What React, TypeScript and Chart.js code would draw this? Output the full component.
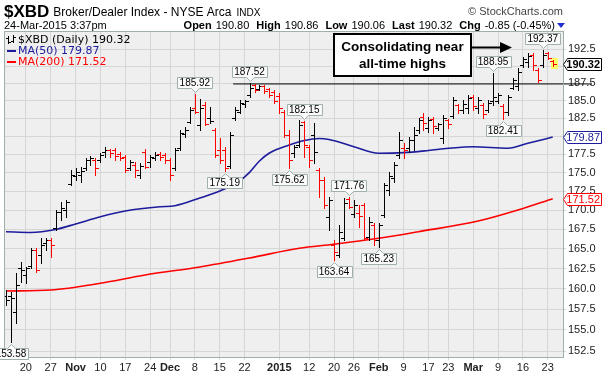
import React, { useEffect, useRef } from "react";
import { Chart, registerables } from "chart.js";

Chart.register(...registerables);

const SANS = '"Liberation Sans", Arial, sans-serif';
const VERD = '"DejaVu Sans", Verdana, sans-serif';

// Daily bars, 14-Oct-2014 (index 0) .. 24-Mar-2015 (index 110)
const opens = [
  159.12, 159.12, 157.16, 162.59, 161.72, 162.84, 164.86, 164.23, 165.76, 166.14,
  167.69, 169.77, 170.03, 173.48, 174.55, 174.69, 175.63, 176.72, 176.72, 176.72,
  177.81, 178.09, 178.09, 177.54, 177.13, 175.63, 176.04, 174.69, 177.81, 176.45,
  176.99, 177.54, 177.40, 176.72, 175.63, 178.36, 180.30, 181.98, 183.95, 181.56,
  184.38, 182.54, 180.86, 178.09, 178.09, 175.90, 182.54, 183.39, 184.52, 185.81,
  187.25, 186.67, 187.11, 186.67, 186.24, 185.67, 183.39, 180.16, 177.68, 178.78,
  181.98, 178.50, 180.16, 175.36, 174.01, 169.12, 165.50, 164.23, 166.40, 171.48,
  169.51, 169.64, 170.69, 166.53, 168.08, 166.14, 169.38, 172.68, 174.28, 177.40,
  178.36, 178.36, 179.47, 180.86, 182.68, 181.14, 182.40, 181.14, 179.74, 182.26,
  182.82, 184.38, 183.67, 183.95, 185.52, 183.95, 184.38, 183.67, 184.95, 184.95,
  184.24, 183.39, 186.81, 187.11, 190.15, 190.60, 191.63, 189.42, 190.15, 191.93,
  190.80,
];
const highs = [
  159.85, 159.61, 161.96, 163.35, 162.72, 165.11, 165.11, 166.40, 166.40, 166.40,
  170.03, 171.08, 171.35, 175.36, 175.63, 175.77, 176.99, 177.27, 176.99, 177.68,
  178.50, 178.22, 178.36, 177.81, 177.40, 176.72, 176.45, 176.31, 178.22, 177.40,
  177.81, 177.81, 177.68, 176.99, 178.36, 180.86, 181.28, 184.10, 185.92, 185.23,
  184.81, 184.10, 181.14, 179.74, 178.50, 180.58, 184.10, 185.09, 185.09, 187.52,
  187.32, 187.25, 187.25, 186.81, 186.52, 186.09, 183.67, 180.86, 178.78, 182.26,
  182.15, 178.78, 181.84, 175.63, 174.42, 171.75, 166.14, 168.08, 171.61, 171.76,
  171.35, 170.69, 170.95, 169.12, 168.33, 168.33, 173.61, 175.09, 176.45, 180.58,
  179.05, 179.88, 181.28, 182.54, 183.24, 182.68, 182.68, 181.84, 182.96, 182.40,
  185.52, 184.52, 185.09, 185.81, 185.81, 185.52, 184.66, 185.09, 188.95, 186.09,
  184.52, 185.81, 188.26, 189.72, 191.33, 191.93, 191.93, 189.72, 192.37, 192.07,
  190.86,
];
const lows = [
  158.02, 153.58, 155.84, 160.84, 160.72, 162.59, 162.09, 163.22, 164.86, 163.98,
  167.43, 168.72, 169.12, 173.34, 174.01, 173.75, 175.36, 176.04, 174.69, 176.45,
  177.13, 177.13, 176.72, 176.72, 175.09, 175.36, 174.42, 174.28, 175.63, 175.77,
  176.72, 176.72, 176.31, 174.01, 175.36, 178.09, 179.88, 181.84, 183.24, 180.86,
  181.56, 181.84, 177.13, 176.31, 175.19, 175.63, 182.26, 183.24, 184.10, 185.52,
  186.24, 186.52, 186.09, 185.52, 184.66, 183.24, 179.88, 175.62, 177.13, 178.50,
  177.13, 175.77, 176.31, 171.70, 170.29, 167.43, 163.64, 163.98, 166.14, 170.29,
  169.12, 167.82, 166.14, 166.14, 165.50, 165.23, 169.12, 172.01, 173.75, 176.99,
  176.99, 177.81, 178.09, 180.44, 180.86, 180.58, 180.44, 180.86, 179.05, 181.14,
  182.54, 183.24, 183.24, 183.24, 183.67, 183.24, 182.54, 183.39, 184.38, 184.66,
  182.41, 182.96, 186.67, 186.52, 189.86, 189.86, 189.42, 187.68, 189.86, 191.04,
  190.06,
];
const closes = [
  158.63, 158.87, 160.47, 162.34, 162.59, 164.86, 162.34, 165.50, 166.14, 165.50,
  169.77, 170.29, 171.08, 174.69, 175.09, 175.23, 176.72, 176.99, 175.63, 177.40,
  178.09, 177.68, 177.27, 176.99, 175.36, 176.45, 175.36, 175.90, 175.77, 177.13,
  177.40, 177.13, 176.72, 174.69, 178.09, 180.44, 180.86, 183.67, 183.39, 183.95,
  181.70, 182.12, 177.40, 176.72, 175.63, 180.16, 183.67, 184.66, 184.95, 186.81,
  186.52, 187.11, 186.38, 185.81, 184.95, 183.95, 180.16, 176.72, 178.50, 181.56,
  178.78, 176.72, 177.81, 174.01, 170.69, 171.35, 164.61, 167.17, 170.95, 170.42,
  170.69, 169.25, 166.40, 168.46, 166.14, 168.08, 173.34, 174.55, 176.04, 179.47,
  178.09, 179.47, 180.16, 182.26, 181.84, 182.26, 181.42, 181.70, 182.54, 181.70,
  185.09, 183.67, 184.52, 185.38, 184.24, 185.09, 183.10, 184.66, 185.52, 185.81,
  183.39, 185.52, 187.97, 189.13, 191.04, 191.48, 190.16, 187.97, 191.63, 191.17,
  190.32,
];

// Moving averages, read at sample bar positions
const ma50Idx = [0, 5, 10, 14, 19, 24, 31, 34, 39, 43, 47, 49, 51, 53, 57, 60, 63, 65, 70, 75, 80, 85, 89, 94, 101, 105, 110];
const ma50Val = [167.21, 167.11, 167.50, 168.20, 169.15, 169.90, 170.46, 170.59, 171.61, 172.54, 173.88, 175.03, 176.58, 177.68, 178.78, 179.40, 179.68, 179.54, 178.54, 177.64, 177.72, 178.02, 178.32, 178.54, 178.32, 179.01, 179.87];
const ma200Idx = [0, 9, 19, 28, 39, 49, 59, 66, 75, 83, 95, 103, 110];
const ma200Val = [159.73, 159.85, 160.68, 161.72, 162.72, 163.85, 165.08, 165.59, 166.36, 167.21, 168.59, 170.03, 171.52];

// Axis ticks
const xTickIdx = [4, 9, 14, 19, 24, 29, 33, 38, 43, 48, 55, 61, 66, 70, 75, 80, 85, 89, 94, 99, 104, 109];
const xTickLabels = ["20", "27", "Nov", "10", "17", "24", "Dec", "8", "15", "22", "2015", "12", "20", "26", "Feb", "9", "17", "23", "Mar", "9", "16", "23"];
const yTicks = [152.5, 155, 157.5, 160, 162.5, 165, 167.5, 170, 172.5, 175, 177.5, 180, 182.5, 185, 187.5, 190, 192.5];

// Labelled highs / lows
const markIdx = [1, 38, 44, 49, 57, 60, 66, 69, 75, 98, 100, 108];
const markSide = ["low", "high", "low", "high", "low", "high", "low", "high", "low", "high", "low", "high"];

// Resistance line
const resistanceLevel = 187.4;
const resistanceFrom = 45.7;
const resistanceTo = 117.9;

const quoteFields = [["Open", "190.80"], ["High", "190.86"], ["Low", "190.06"], ["Last", "190.32"], ["Chg", "-0.85 (-0.45%)"]];
const calloutLines = ["Consolidating near", "all-time highs"];

const BLUE = "#1c1c9c";
const RED = "#ff0000";
const GRID = "#d6d6d6";
const BORDER = "#9fb0a8";

function drawMark(ctx: CanvasRenderingContext2D, cx: number, py: number, text: string, above: boolean) {
  ctx.font = `10px ${SANS}`;
  const tw = ctx.measureText(text).width;
  const w = Math.round(tw + 4);
  const h = 11;
  const c = Math.round(cx) + 0.5;
  const left = Math.round(cx - w / 2) + 0.5;
  ctx.beginPath();
  let mid: number;
  if (above) {
    const bottom = Math.round(py - 6) + 0.5;
    const top = bottom - h;
    ctx.moveTo(left, top);
    ctx.lineTo(left + w, top);
    ctx.lineTo(left + w, bottom);
    ctx.lineTo(c + 4, bottom);
    ctx.lineTo(c, bottom + 4);
    ctx.lineTo(c - 4, bottom);
    ctx.lineTo(left, bottom);
    mid = (top + bottom) / 2;
  } else {
    const top = Math.round(py + 6) + 0.5;
    const bottom = top + h;
    ctx.moveTo(left, top);
    ctx.lineTo(c - 4, top);
    ctx.lineTo(c, top - 4);
    ctx.lineTo(c + 4, top);
    ctx.lineTo(left + w, top);
    ctx.lineTo(left + w, bottom);
    ctx.lineTo(left, bottom);
    mid = (top + bottom) / 2;
  }
  ctx.closePath();
  ctx.fillStyle = "#fbfbfb";
  ctx.fill();
  ctx.strokeStyle = BORDER;
  ctx.lineWidth = 1;
  ctx.stroke();
  ctx.fillStyle = "#000";
  ctx.textAlign = "center";
  ctx.textBaseline = "middle";
  ctx.fillText(text, cx, mid + 0.5);
}

function drawValueBox(ctx: CanvasRenderingContext2D, left: number, py: number, text: string, color: string, bold: boolean) {
  const y = Math.round(py) + 0.5;
  ctx.beginPath();
  ctx.moveTo(left + 0.5, y);
  ctx.lineTo(left + 4.5, y - 6);
  ctx.lineTo(601.5, y - 6);
  ctx.lineTo(601.5, y + 6);
  ctx.lineTo(left + 4.5, y + 6);
  ctx.closePath();
  ctx.fillStyle = "#fff";
  ctx.fill();
  ctx.strokeStyle = color;
  ctx.lineWidth = 1;
  ctx.stroke();
  ctx.fillStyle = bold ? "#000" : color;
  ctx.font = `${bold ? "bold " : ""}11px ${SANS}`;
  ctx.textAlign = "right";
  ctx.textBaseline = "middle";
  ctx.fillText(text, 600, y + 0.5);
}

const xbdPlugin = {
  id: "xbd",
  beforeDraw(chart: any) {
    const { ctx, chartArea: a } = chart;
    ctx.save();
    ctx.fillStyle = "#fff";
    ctx.fillRect(0, 0, chart.width, chart.height);
    ctx.fillStyle = "#efefef";
    ctx.fillRect(a.left, a.top, a.right - a.left, a.bottom - a.top);
    ctx.restore();
  },
  beforeDatasetsDraw(chart: any) {
    const { ctx, scales } = chart;
    const n = closes.length - 1;
    const px = Math.round(scales.x.getPixelForValue(n));
    const top = Math.round(scales.y.getPixelForValue(highs[n]));
    const bot = Math.round(scales.y.getPixelForValue(lows[n]));
    ctx.save();
    ctx.fillStyle = "#ffff66";
    ctx.fillRect(px - 2, top - 2, 7, bot - top + 5);
    ctx.restore();
  },
  afterDatasetsDraw(chart: any) {
    const { ctx, chartArea: a, scales } = chart;
    const xs = scales.x;
    const ys = scales.y;
    ctx.save();
    ctx.beginPath();
    ctx.rect(a.left, a.top, a.right - a.left, a.bottom - a.top);
    ctx.clip();
    ctx.lineWidth = 1;
    for (let i = 0; i < closes.length; i++) {
      const up = i === 0 ? true : closes[i] >= closes[i - 1];
      const col = Math.round(xs.getPixelForValue(i));
      const px = col + 0.5;
      const yh = Math.round(ys.getPixelForValue(highs[i]));
      const yl = Math.round(ys.getPixelForValue(lows[i]));
      const yo = Math.round(ys.getPixelForValue(opens[i])) + 0.5;
      const yc = Math.round(ys.getPixelForValue(closes[i])) + 0.5;
      ctx.strokeStyle = up ? "#000" : RED;
      ctx.beginPath();
      ctx.moveTo(px, yh);
      ctx.lineTo(px, yl + 1);
      ctx.moveTo(col - 3, yo);
      ctx.lineTo(col, yo);
      ctx.moveTo(col + 1, yc);
      ctx.lineTo(col + 4, yc);
      ctx.stroke();
    }
    ctx.restore();
  },
  afterDraw(chart: any) {
    const { ctx, chartArea: a, scales } = chart;
    const xs = scales.x;
    const ys = scales.y;
    const n = closes.length - 1;
    ctx.save();

    // plot border
    ctx.strokeStyle = BORDER;
    ctx.lineWidth = 1;
    ctx.strokeRect(a.left - 0.5, a.top - 0.5, a.right - a.left + 1, a.bottom - a.top + 1);

    // labelled highs and lows
    for (let k = 0; k < markIdx.length; k++) {
      const i = markIdx[k];
      const above = markSide[k] === "high";
      const v = above ? highs[i] : lows[i];
      drawMark(ctx, xs.getPixelForValue(i), ys.getPixelForValue(v), v.toFixed(2), above);
    }

    // right-side value boxes
    const boxLeft = a.right;
    drawValueBox(ctx, boxLeft, ys.getPixelForValue(ma200Val[ma200Val.length - 1]), ma200Val[ma200Val.length - 1].toFixed(2), RED, false);
    drawValueBox(ctx, boxLeft, ys.getPixelForValue(ma50Val[ma50Val.length - 1]), ma50Val[ma50Val.length - 1].toFixed(2), BLUE, false);
    drawValueBox(ctx, boxLeft, ys.getPixelForValue(closes[n]), closes[n].toFixed(2), "#000", true);

    // legend
    ctx.textAlign = "left";
    ctx.textBaseline = "middle";
    ctx.strokeStyle = "#000";
    ctx.beginPath();
    ctx.moveTo(8.5, 36); ctx.lineTo(8.5, 44);
    ctx.moveTo(6, 38.5); ctx.lineTo(8, 38.5);
    ctx.moveTo(9, 42.5); ctx.lineTo(11, 42.5);
    ctx.moveTo(13.5, 35); ctx.lineTo(13.5, 43);
    ctx.moveTo(11, 41.5); ctx.lineTo(13, 41.5);
    ctx.moveTo(14, 37.5); ctx.lineTo(16, 37.5);
    ctx.stroke();
    ctx.font = `11px ${VERD}`;
    ctx.fillStyle = "#000";
    ctx.fillText(`$XBD (Daily) ${closes[n].toFixed(2)}`, 18, 40);
    ctx.fillStyle = BLUE;
    ctx.fillRect(7, 50, 9, 2);
    ctx.fillText(`MA(50) ${ma50Val[ma50Val.length - 1].toFixed(2)}`, 18, 51);
    ctx.fillStyle = RED;
    ctx.fillRect(7, 61, 9, 2);
    ctx.fillText(`MA(200) ${ma200Val[ma200Val.length - 1].toFixed(2)}`, 18, 62);

    // header
    ctx.textBaseline = "alphabetic";
    ctx.fillStyle = "#000";
    ctx.font = `bold 17px ${SANS}`;
    ctx.fillText("$XBD", 4, 17);
    let x = 4 + ctx.measureText("$XBD").width + 4;
    ctx.font = `12px ${SANS}`;
    ctx.fillText("Broker/Dealer Index - NYSE Arca", x, 16);
    x += ctx.measureText("Broker/Dealer Index - NYSE Arca").width + 5;
    ctx.font = `10px ${SANS}`;
    ctx.fillText("INDX", x, 16);
    ctx.fillStyle = "#444";
    ctx.font = `11px ${SANS}`;
    ctx.textAlign = "right";
    ctx.fillText("\u00A9 StockCharts.com", 563, 15);

    ctx.textAlign = "left";
    ctx.fillStyle = "#000";
    ctx.font = `11px ${SANS}`;
    ctx.fillText("24-Mar-2015 3:37pm", 4, 29);
    // right quote block (laid out right to left)
    let rx = 555;
    for (let k = quoteFields.length - 1; k >= 0; k--) {
      const [label, val] = quoteFields[k];
      ctx.font = `11px ${SANS}`;
      const vw = ctx.measureText(val).width;
      rx -= vw;
      ctx.fillText(val, rx, 29);
      rx -= 4;
      ctx.font = `bold 11px ${SANS}`;
      const lw = ctx.measureText(label).width;
      rx -= lw;
      ctx.fillText(label, rx, 29);
      rx -= 7;
    }
    ctx.fillStyle = "#2030d0";
    ctx.beginPath();
    ctx.moveTo(557, 23);
    ctx.lineTo(565, 23);
    ctx.lineTo(561, 28);
    ctx.closePath();
    ctx.fill();

    // callout box
    ctx.lineWidth = 2;
    ctx.strokeStyle = "#000";
    ctx.fillStyle = "#fff";
    ctx.fillRect(334, 34, 137, 42);
    ctx.strokeRect(334, 34, 137, 42);
    ctx.fillStyle = "#000";
    ctx.font = `bold 13.5px ${SANS}`;
    ctx.textAlign = "center";
    ctx.textBaseline = "middle";
    ctx.fillText(calloutLines[0], 402.5, 47);
    ctx.fillText(calloutLines[1], 402.5, 64);
    // arrow
    ctx.beginPath();
    ctx.moveTo(472, 47.5);
    ctx.lineTo(502, 47.5);
    ctx.stroke();
    ctx.beginPath();
    ctx.moveTo(512, 47.5);
    ctx.lineTo(500, 42);
    ctx.lineTo(500, 53);
    ctx.closePath();
    ctx.fill();

    ctx.restore();
  },
};

export default function App() {
  const ref = useRef<HTMLCanvasElement | null>(null);
  useEffect(() => {
    document.body.style.margin = "0";
    const canvas = ref.current;
    if (!canvas) return;
    const chart = new Chart(canvas, {
      type: "line",
      data: {
        datasets: [
          {
            data: [{ x: resistanceFrom, y: resistanceLevel }, { x: resistanceTo, y: resistanceLevel }],
            borderColor: "#000",
            borderWidth: 1,
            pointRadius: 0,
            clip: false as any,
          },
          {
            data: ma50Idx.map((v, k) => ({ x: v, y: ma50Val[k] })),
            borderColor: BLUE,
            borderWidth: 1.6,
            pointRadius: 0,
            cubicInterpolationMode: "monotone",
          },
          {
            data: ma200Idx.map((v, k) => ({ x: v, y: ma200Val[k] })),
            borderColor: RED,
            borderWidth: 1.6,
            pointRadius: 0,
            cubicInterpolationMode: "monotone",
          },
        ],
      },
      options: {
        responsive: false,
        animation: false,
        devicePixelRatio: 1,
        events: [],
        layout: { padding: { left: 5, top: 32, right: 0, bottom: 0 } },
        plugins: { legend: { display: false }, tooltip: { enabled: false } },
        scales: {
          x: {
            type: "linear",
            min: -0.2,
            max: 112.07,
            afterBuildTicks: (s: any) => {
              s.ticks = xTickIdx.map((v) => ({ value: v }));
            },
            afterFit: (s: any) => {
              s.height = 18;
            },
            ticks: {
              autoSkip: false,
              maxRotation: 0,
              padding: 1,
              color: "#222",
              font: (c: any) => ({
                family: SANS,
                size: 11,
                weight: /^\d{1,2}$/.test(xTickLabels[c.index] || "") ? "normal" : "bold",
              }),
              callback: (_v: any, i: number) => xTickLabels[i],
            },
            grid: { color: GRID, tickLength: 3 },
            border: { display: false },
          },
          y: {
            type: "logarithmic",
            position: "right",
            min: 151.8,
            max: 195.06,
            afterBuildTicks: (s: any) => {
              s.ticks = yTicks.map((v) => ({ value: v }));
            },
            afterFit: (s: any) => {
              s.width = 39;
            },
            ticks: {
              padding: 2,
              color: "#222",
              font: { family: SANS, size: 11 },
              callback: (v: any) => Number(v).toFixed(1),
            },
            grid: { color: GRID, tickLength: 3 },
            border: { display: false },
          },
        },
      } as any,
      plugins: [xbdPlugin],
    });
    return () => chart.destroy();
  }, []);
  return <canvas ref={ref} width={602} height={375} style={{ display: "block", width: 602, height: 375 }} />;
}
